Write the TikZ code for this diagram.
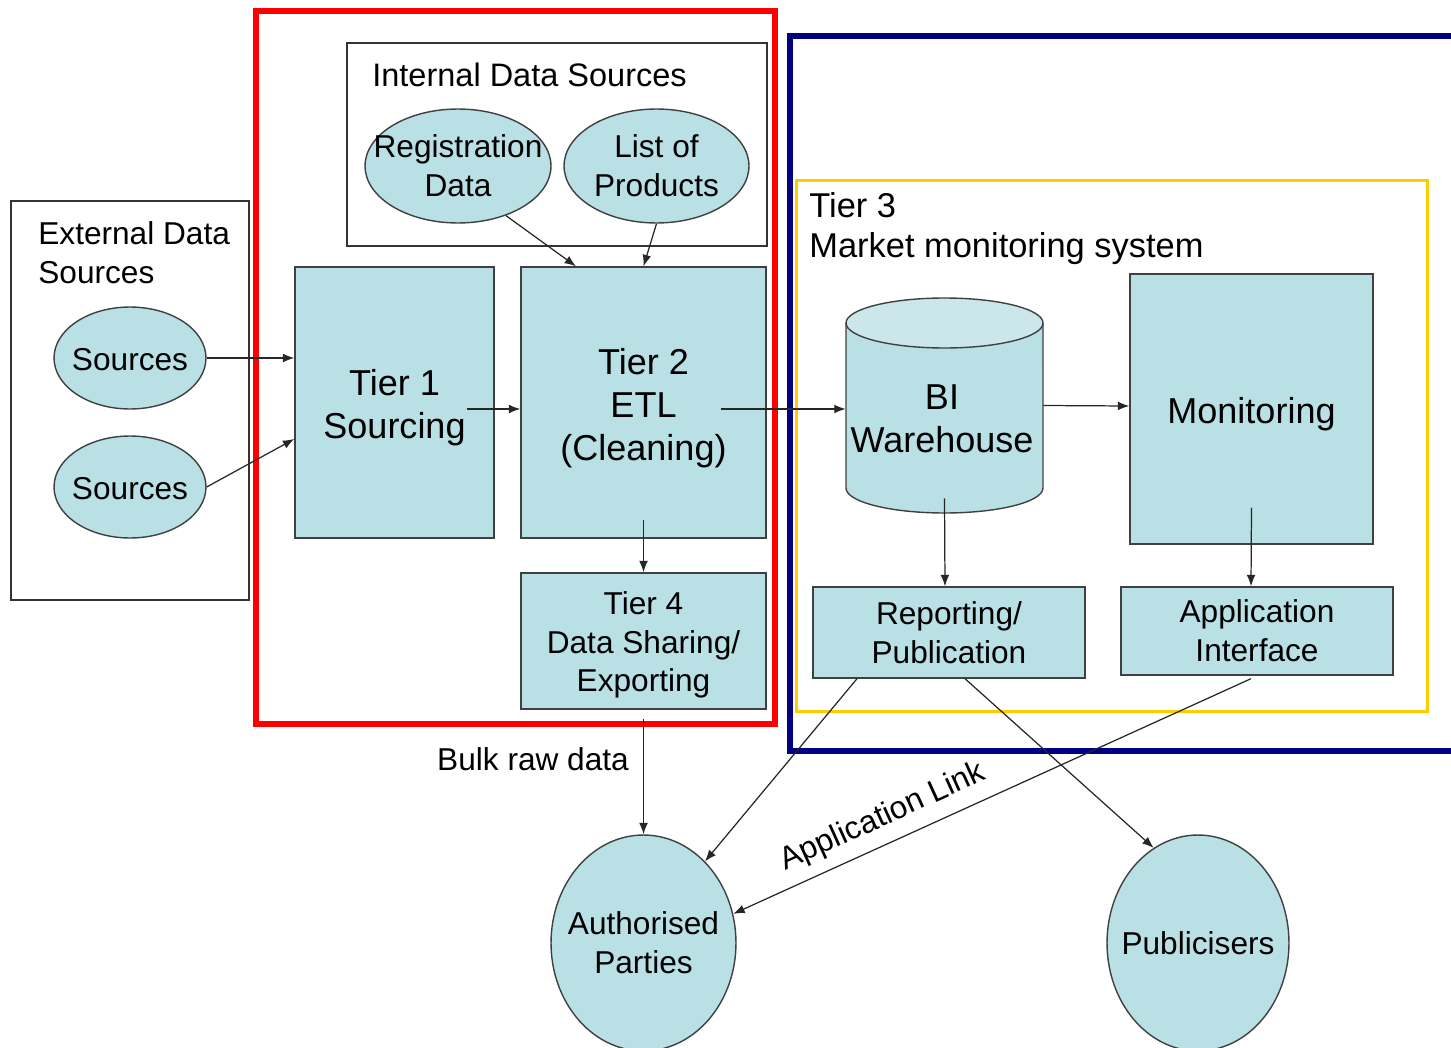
\documentclass[tikz,border=0pt]{standalone}
\usepackage{fontspec}
\setmainfont{Liberation Sans}
\usetikzlibrary{shapes.geometric,arrows.meta}

\definecolor{paleblue}{RGB}{185,224,228}
\definecolor{lidblue}{RGB}{203,231,234}
\definecolor{tierred}{RGB}{255,0,0}
\definecolor{tierblue}{RGB}{0,0,128}
\definecolor{tieryellow}{RGB}{255,204,0}

\begin{document}
\begin{tikzpicture}[
		x=0.02cm,y=-0.02cm,
		txt/.style={
			font=\fontsize{18}{22}\selectfont,
			align=center,
			inner sep=0
		},
		bigtxt/.style={
			font=\fontsize{20.5}{24.5}\selectfont,
			align=center,
			inner sep=0
		},
		box/.style={draw=black!75,line width=0.8pt,fill=paleblue,rectangle
		},
		blob/.style={draw=black!75,line width=0.8pt,fill=paleblue,ellipse,inner sep=0
		},
		frame/.style={
			draw=black!80,
			line width=0.8pt
		},
		link/.style={->,draw=black!85,line width=0.7pt},
		>={Latex[length=6.5pt,width=5pt]}
		]
		\useasboundingbox (0,0) rectangle (1451,1048);
		% Frames
		\draw[frame] (11,201) rectangle (249,600);
		\draw[frame] (347,43) rectangle (767,246);
		\draw[tierred,line width=3.4pt] (256,11) rectangle (775,724);
		\draw[tierblue,line width=3.4pt] (790,36) rectangle (1480,751);
		\draw[tieryellow,line width=1.7pt] (796.5,180.5) rectangle (1427.5,711.5);
		\node[txt,anchor=west,align=left] (ext) at (38,252.5) {External Data\\Sources};
		\node[txt,anchor=west,font=\fontsize{18.5}{22}\selectfont] (int) at (372,75) {Internal Data Sources};
		\node[font=\fontsize{19.6}{22.7}\selectfont,align=left,inner sep=0,anchor=west] (tierthree) at (809,229) {Tier 3\\Market monitoring system};
		% Sources
		\foreach \y [count=\i] in {358,487}
			\node[blob,minimum width=3.04cm,minimum height=2.04cm,label={[txt,yshift=-0.04cm]center:Sources}] (src-\i) at (130,\y) {};
		\node[blob,minimum width=3.72cm,minimum height=2.28cm,label={[txt]center:Registration\\Data}] (regdata) at (458,166) {};
		\node[blob,minimum width=3.7cm,minimum height=2.28cm,label={[txt]center:List of\\Products}] (listprod) at (656.5,166) {};
		% Tiers
		\node[box,minimum width=3.98cm,minimum height=5.42cm,label={[bigtxt,yshift=-0.1cm]center:Tier 1\\Sourcing}] (tierone) at (394.5,402.5) {};
		\node[box,minimum width=4.9cm,minimum height=5.42cm,label={[bigtxt,yshift=-0.11cm]center:Tier 2\\ETL\\(Cleaning)}] (tiertwo) at (643.5,402.5) {};
		\node[box,minimum width=4.9cm,minimum height=2.72cm,label={[txt,yshift=-0.08cm]center:Tier 4\\Data Sharing/\\Exporting}] (tierfour) at (643.5,641) {};
		% Warehouse
		\fill[paleblue] (846,323) -- (846,488) arc[start angle=180,end angle=360,x radius=1.97cm,y radius=0.5cm] -- (1043,323) -- cycle;
		\draw[black!75,line width=0.8pt] (846,323) -- (846,488) arc[start angle=180,end angle=360,x radius=1.97cm,y radius=0.5cm] -- (1043,323);
		\draw[black!75,line width=0.8pt,fill=lidblue] (944.5,323) ellipse [x radius=1.97cm,y radius=0.5cm];
		\node[minimum width=3.94cm,minimum height=4.3cm,inner sep=0] (bi) at (944.5,405.5) {};
		\node[bigtxt] (bitxt) at (942,419) {BI\\Warehouse};
		\node[box,minimum width=4.86cm,minimum height=5.4cm,label={[bigtxt,yshift=-0.1cm]center:Monitoring}] (monitor) at (1251.5,409) {};
		\node[box,txt,minimum width=5.44cm,minimum height=1.82cm] (report) at (949,632.5) {Reporting/\\Publication};
		\node[box,txt,minimum width=5.44cm,minimum height=1.76cm] (appif) at (1257,631) {Application\\Interface};
		% Receivers
		\node[blob,minimum width=3.7cm,minimum height=4.32cm,label={[txt]center:Authorised\\Parties}] (auth) at (643.5,943) {};
		\node[blob,minimum width=3.64cm,minimum height=4.32cm,label={[txt]center:Publicisers}] (publ) at (1198,943) {};
		% Sources -> Tier 1
		\draw[link] (src-1.east) -- (src-1.east -| tierone.west);
		\draw[link] (src-2.east) -- (tierone.200);
		% Internal -> Tier 2
		\draw[link] (regdata.-46) -- ([shift={(-67.5,0)}]tiertwo.north);
		\draw[link] (listprod.south) -- (tiertwo.north);
		% Tier chain
		\draw[link] ([shift={(-28,6.5)}]tierone.east) -- ([shift={(0,6.5)}]tiertwo.west);
		\draw[link] ([shift={(-46,6.5)}]tiertwo.east) -- ([shift={(0,3.5)}]bi.west);
		\draw[link] ([shift={(0,-19)}]tiertwo.south) -- (tierfour.north);
		\draw[link] (bi.east) -- ([shift={(0,-3)}]monitor.west);
		\draw[link] ([shift={(0,-15)}]bi.south) -- ([shift={(-4,0)}]report.north);
		\draw[link] ([shift={(0,-37)}]monitor.south) -- ([shift={(-6,0)}]appif.north);
		% Outputs
		\draw[link] ([shift={(0,9)}]tierfour.south) -- node[txt,pos=0.35,left=8pt] {Bulk raw data} (auth.north);
		\draw[link] ([shift={(-92,0)}]report.south) -- (auth.53);
		\draw[link] ([shift={(16,0)}]report.south) -- (publ.115);
		\draw[link] ([shift={(-6,3)}]appif.south) -- node[txt,pos=0.69,sloped,above=6pt] {Application Link} (auth.18);
\end{tikzpicture}
\end{document}
